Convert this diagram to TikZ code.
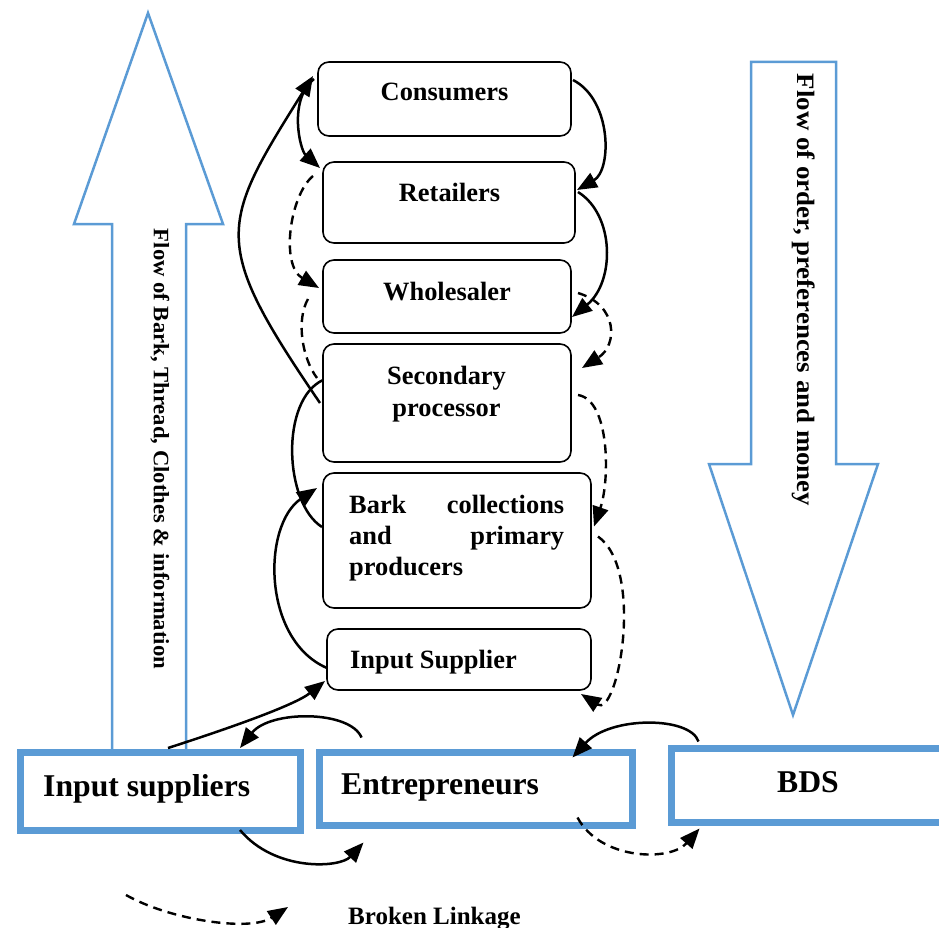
\documentclass[tikz,border=0pt]{standalone}
\usepackage{fontspec}
\usepackage{graphicx}
\setmainfont{Liberation Serif}
\usetikzlibrary{arrows.meta,calc}
\definecolor{obl}{RGB}{91,155,213}
\begin{document}
\begin{tikzpicture}[x=1pt,y=-1pt,
  box/.style={draw, line width=1.6pt, rounded corners=11pt, inner sep=0pt, outer sep=0pt},
  bluebox/.style={draw=obl, line width=7pt, inner sep=0pt, outer sep=0pt},
  bigarrow/.style={draw=obl, line width=2.5pt},
  txt/.style={inner sep=0pt, font=\fontsize{26.4}{31}\selectfont\bfseries},
  bigtxt/.style={inner sep=0pt, font=\fontsize{31.7}{36}\selectfont\bfseries},
  conn/.style={line width=2.5pt, -{Triangle[length=20pt,width=16pt]}},
  plain/.style={line width=2.5pt},
  dconn/.style={line width=2.4pt, dash pattern=on 9pt off 6pt, -{Triangle[length=20pt,width=16pt]}},
  dplain/.style={line width=2.4pt, dash pattern=on 9pt off 6pt}]
\useasboundingbox (0,0) rectangle (939,928);
\clip (0,0) rectangle (939,928);

% big blue arrows
\draw[bigarrow] (148,13) -- (74,224) -- (112,224) -- (112,752) -- (186,752) -- (186,224) -- (223,224) -- cycle;
\draw[bigarrow] (751,62) -- (836,62) -- (836,464) -- (878,464) -- (793,715) -- (709,464) -- (751,464) -- cycle;
\node[rotate=-90, inner sep=0pt, font=\fontsize{22}{26}\selectfont\bfseries] (lft) at (160,449)
  {\scalebox{1.03}[1]{Flow of Bark, Thread, Clothes \& information}};
\node[rotate=-90, inner sep=0pt, font=\fontsize{25}{30}\selectfont\bfseries] (rgt) at (804,290)
  {\scalebox{1.075}[1]{Flow of order, preferences and money}};

% chain boxes
\node[box, minimum width=253pt, minimum height=74pt] (cons) at (444.5,99) {};
\node[box, minimum width=252pt, minimum height=81pt] (ret) at (449,202.5) {};
\node[box, minimum width=248pt, minimum height=73pt] (whole) at (447,296.5) {};
\node[box, minimum width=248pt, minimum height=118pt] (sec) at (447,403) {};
\node[box, minimum width=268pt, minimum height=135pt] (bark) at (457,540.5) {};
\node[box, minimum width=264pt, minimum height=61pt] (insup) at (459,659.5) {};

\node[txt, anchor=base] (tcons) at (444.5,101) {Consumers};
\node[txt, anchor=base] (tret) at (449.5,201) {Retailers};
\node[txt, anchor=base] (twhole) at (447,300) {Wholesaler};
\node[txt, anchor=base] (tsec) at (446.5,384)
  {\parbox[t]{220pt}{\fontsize{26.4}{32}\selectfont\centering Secondary\\processor}};
\node[txt, anchor=base west] (tbark) at (349,513)
  {\parbox[t]{215pt}{\fontsize{26.4}{31}\selectfont Bark collections\linebreak and primary\linebreak producers}};
\node[txt, anchor=base west] (tinsup) at (350,668) {Input Supplier};

% bottom blue boxes
\node[bluebox, minimum width=280pt, minimum height=78pt] (isb) at (160,791) {};
\node[bluebox, minimum width=313pt, minimum height=73pt] (ent) at (476,789) {};
\node[bluebox, minimum width=288.5pt, minimum height=74pt] (bds) at (815.75,785.5) {};
\node[bigtxt, anchor=base west] (tisb) at (43,796) {Input suppliers};
\node[bigtxt, anchor=base west] (tent) at (341,794) {Entrepreneurs};
\node[bigtxt, anchor=base west] (tbds) at (777,792) {BDS};

% right side connectors
\draw[conn] ([shift={(2,18)}]cons.north east) .. controls (612,100) and (612,170) .. ([shift={(2,28)}]ret.north east);
\draw[conn] ([shift={(3,30)}]ret.north east) .. controls (615,215) and (615,282) .. ([shift={(1,57)}]whole.north east);
\draw[dconn] ([shift={(7,33)}]whole.north east) .. controls (618,305) and (618,345) .. ([shift={(11,24)}]sec.north east);
\draw[dconn] ([shift={(7,51)}]sec.north east) .. controls (610,400) and (610,480) .. ([shift={(3,-14)}]bark.east);
\draw[dconn] ([shift={(7,-4)}]bark.east) .. controls (645,570) and (618,718) .. ([shift={(-10,4)}]insup.south east);

% left side connectors
\draw[conn] ([shift={(-3,0)}]sec.west) .. controls (210,242) and (219,226) .. ([shift={(-5,14)}]cons.north west);
\draw[conn] ([shift={(-4,17)}]cons.north west) .. controls (288,100) and (300,150) .. ([shift={(-3,6)}]ret.north west);
\draw[dconn] ([shift={(-10,14)}]ret.north west) .. controls (290,195) and (280,265) .. ([shift={(-4,28)}]whole.north west);
\draw[dplain] ([shift={(-15,39)}]whole.north west) .. controls (296,320) and (302,358) .. ([shift={(-6,34)}]sec.north west);
\draw[plain] ([shift={(0,36)}]sec.north west) .. controls (280,400) and (284,503) .. ([shift={(-1,54)}]bark.north west);
\draw[conn] ([shift={(0,8.5)}]insup.west) .. controls (262,640) and (262,525) .. ([shift={(-6,15)}]bark.north west);

% bottom connectors
\draw[conn] ([shift={(8,-4)}]isb.north) .. controls (230,728) and (295,705) .. ([shift={(-2,-9)}]insup.south west);
\draw[conn] ([shift={(42,-15)}]ent.north west) .. controls (350,710) and (270,710) .. ([shift={(-60,-4)}]isb.north east);
\draw[conn] ([shift={(-60,0)}]isb.south east) .. controls (275,872) and (340,868) .. ([shift={(44,17)}]ent.south west);
\draw[conn] ([shift={(27,-7)}]bds.north west) .. controls (690,716) and (610,716) .. ([shift={(-60,5)}]ent.north east);
\draw[dconn] ([shift={(-55,-8)}]ent.south east) .. controls (600,860) and (670,862) .. ([shift={(28,6)}]bds.south west);

% legend
\coordinate (lgA) at (126,895);
\coordinate (lgB) at (288,907);
\draw[dconn] (lgA) .. controls (170,920) and (250,932) .. (lgB);
\node[inner sep=0pt, anchor=base west, font=\fontsize{25}{30}\selectfont\bfseries] (lgtxt) at (348,924.5) {Broken Linkage};
\end{tikzpicture}
\end{document}
